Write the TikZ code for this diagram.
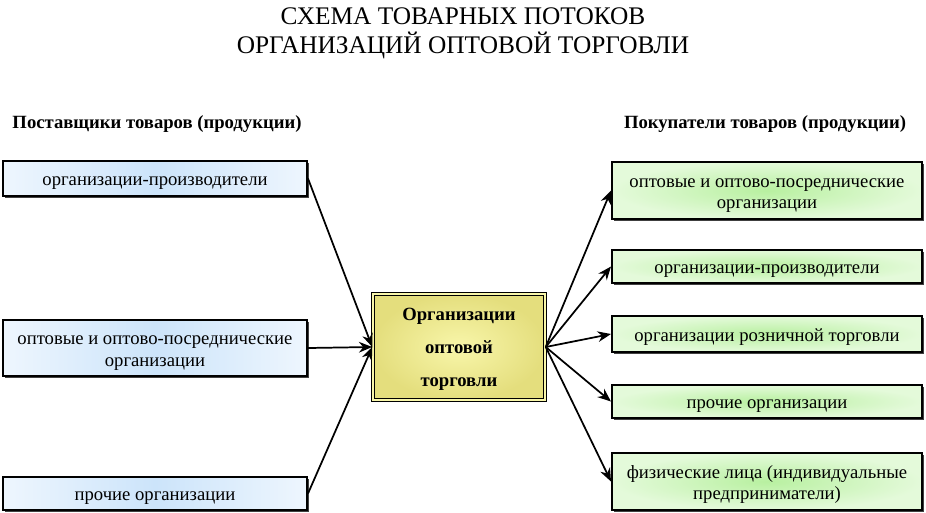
\documentclass[tikz,border=0pt]{standalone}
\usepackage{fontspec}
\setmainfont{Liberation Serif}
\usetikzlibrary{positioning,arrows.meta,shadows}

\definecolor{suppmid}{RGB}{204,228,250}
\definecolor{suppedge}{RGB}{238,246,254}
\definecolor{buyin}{RGB}{184,240,160}
\definecolor{buyout}{RGB}{228,250,218}
\definecolor{wholein}{RGB}{248,246,170}
\definecolor{wholeout}{RGB}{228,222,125}

\tikzset{
	box/.style    = {draw=black, line width=1.5pt, align=center, inner sep=2pt,
		font=\fontsize{14}{16}\selectfont, text height=14pt, text depth=3pt,
		drop shadow={shadow xshift=1.5pt, shadow yshift=-1.5pt, fill=black!75, opacity=1}},
	twolines/.style = {text height=30pt},
	supplier/.style = {box, minimum width=228pt, left color=suppedge, right color=suppedge, middle color=suppmid},
	buyer/.style    = {box, minimum width=232.5pt, inner color=buyin, outer color=buyout},
	flow/.style     = {-{Stealth[length=10pt,width=8pt]}, line width=1.3pt}
}

\begin{document}
\begin{tikzpicture}[x=0.75pt, y=-0.75pt]
		\useasboundingbox (0,0) rectangle (926,512);
		% title
		\node (title) at (463,33) [align=center, font=\fontsize{19}{22}\selectfont]
		{СХЕМА ТОВАРНЫХ ПОТОКОВ\\ОРГАНИЗАЦИЙ ОПТОВОЙ ТОРГОВЛИ};
		\node (supp) at (157,124) [font=\fontsize{14}{16}\selectfont\bfseries] {Поставщики товаров (продукции)};
		\node (buy)  at (765,124) [font=\fontsize{14}{16}\selectfont\bfseries] {Покупатели товаров (продукции)};
		
		% suppliers
		\node (s1) at (155,178.5) [supplier, minimum height=26pt] {организации-производители};
		\node (s2) at (155,348)   [supplier, twolines, minimum height=42pt] {оптовые и оптово-посреднические\\организации};
		\node (s3) at (155,493.5) [supplier, minimum height=25pt] {прочие организации};
		
		% wholesale
		\node (w) at (459,347)
		[box, minimum width=129pt, minimum height=79.5pt, double=wholein, double distance=0.9pt,
		line width=1.1pt, inner color=wholein, outer color=wholeout, text height=63.5pt, text depth=4pt,
		font=\fontsize{14}{24.75}\selectfont\bfseries]
		{Организации\\оптовой\\торговли};
		
		% buyers
		\node (b1) at (767,190.5) [buyer, twolines, minimum height=42.75pt] {оптовые и оптово-посреднические\\организации};
		\node (b2) at (767,266.5) [buyer, minimum height=24.75pt] {организации-производители};
		\node (b3) at (767,334)   [buyer, minimum height=27pt] {организации розничной торговли};
		\node (b4) at (767,401.5) [buyer, minimum height=24.75pt] {прочие организации};
		\node (b5) at (767,481.5) [buyer, twolines, minimum height=42.75pt] {физические лица (индивидуальные\\предприниматели)};
		
		\foreach \s in {s1,s2,s3}
		\draw [flow] (\s.east) -- (w.west);
		\foreach \b in {b1,b2,b3,b4,b5}
		\draw [flow] (w.east) -- (\b.west);
\end{tikzpicture}
\end{document}
